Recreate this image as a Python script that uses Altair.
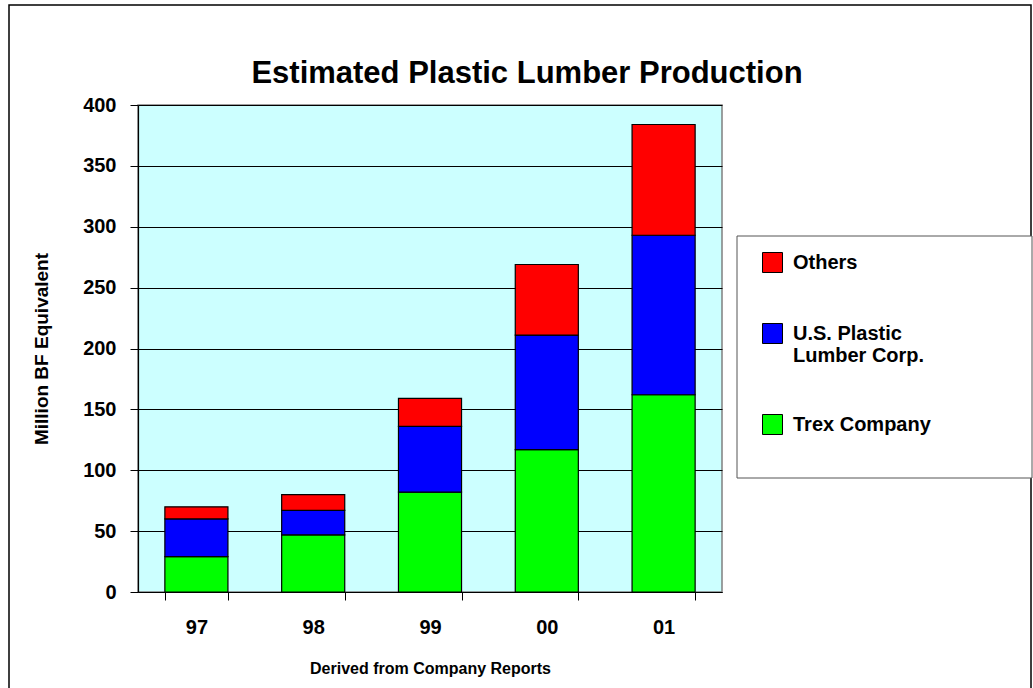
import altair as alt
import pandas as pd

years = ["97", "98", "99", "00", "01"]
series = ["Others", "U.S. Plastic Lumber Corp.", "Trex Company"]
trex = [29, 47, 82, 117, 162]
uspl = [31, 20, 54, 94, 131]
others = [10, 13, 23, 58, 91]
colors = ["#FF0000", "#0000FF", "#00FF00"]
y_ticks = [0, 50, 100, 150, 200, 250, 300, 350, 400]
chart_title = "Estimated Plastic Lumber Production"

rows = []
for i, yr in enumerate(years):
    rows.append({"year": yr, "series": "Trex Company", "value": trex[i], "ord": 0})
    rows.append({"year": yr, "series": "U.S. Plastic Lumber Corp.", "value": uspl[i], "ord": 1})
    rows.append({"year": yr, "series": "Others", "value": others[i], "ord": 2})
df = pd.DataFrame(rows)

FONT = "Liberation Sans"
W, H = 584, 487

bars = alt.Chart(df).mark_bar(stroke="black", strokeWidth=1.2).encode(
    x=alt.X(
        "year:N",
        sort=years,
        scale=alt.Scale(paddingInner=0.46, paddingOuter=0.23),
        axis=alt.Axis(
            title="Derived from Company Reports",
            labelAngle=0,
            tickBand="extent",
            labelFontSize=20,
            labelPadding=17,
            titleFontSize=16,
            titlePadding=23,
        ),
    ),
    y=alt.Y(
        "value:Q",
        stack="zero",
        scale=alt.Scale(domain=[0, 400], nice=False),
        axis=alt.Axis(
            title="Million BF Equivalent",
            values=y_ticks,
            grid=True,
            labelFontSize=20,
            labelPadding=14,
            titleFontSize=19,
            titlePadding=31,
        ),
    ),
    color=alt.Color(
        "series:N",
        scale=alt.Scale(domain=series, range=colors),
        legend=alt.Legend(
            title=None,
            orient="none",
            legendX=624,
            legendY=147,
            symbolType="square",
            symbolSize=400,
            symbolStrokeColor="black",
            symbolStrokeWidth=1,
            symbolOpacity=1,
            labelFontSize=20,
            labelFont=FONT,
            labelFontWeight="bold",
            labelOffset=10,
            labelLimit=400,
            rowPadding=46,
            labelExpr="datum.label == 'U.S. Plastic Lumber Corp.' ? ['U.S. Plastic', 'Lumber Corp.'] : datum.label",
        ),
    ),
    order=alt.Order("ord:Q"),
)

one = pd.DataFrame({"k": [0]})
legend_box = alt.Chart(one).mark_rect(fill="white", stroke="#555555", strokeWidth=1).encode(
    x=alt.value(599), x2=alt.value(894), y=alt.value(131), y2=alt.value(373)
)
frame = alt.Chart(one).mark_rect(fillOpacity=0, stroke="black", strokeWidth=1.5).encode(
    x=alt.value(-129), x2=alt.value(893), y=alt.value(-100), y2=alt.value(600)
)
title_mark = alt.Chart(one).mark_text(
    text=chart_title,
    font=FONT,
    fontSize=31,
    fontWeight="bold",
    color="black",
    align="center",
    baseline="middle",
).encode(x=alt.value(389), y=alt.value(-31))

chart = alt.layer(frame, legend_box, title_mark, bars).properties(
    width=W,
    height=H,
    autosize=alt.AutoSizeParams(type="none"),
    padding={"left": 138, "top": 105, "right": 311, "bottom": 96},
    background="white",
).configure_view(
    fill="#CCFFFF", stroke="#808080", strokeWidth=1.5
).configure_axis(
    labelFont=FONT,
    titleFont=FONT,
    labelFontWeight="bold",
    titleFontWeight="bold",
    labelColor="black",
    titleColor="black",
    domainColor="black",
    tickColor="black",
    tickSize=8,
    gridColor="black",
    gridWidth=1,
    domainWidth=1.2,
)

chart.save("out.html", embed_options={"renderer": "svg", "actions": False})
